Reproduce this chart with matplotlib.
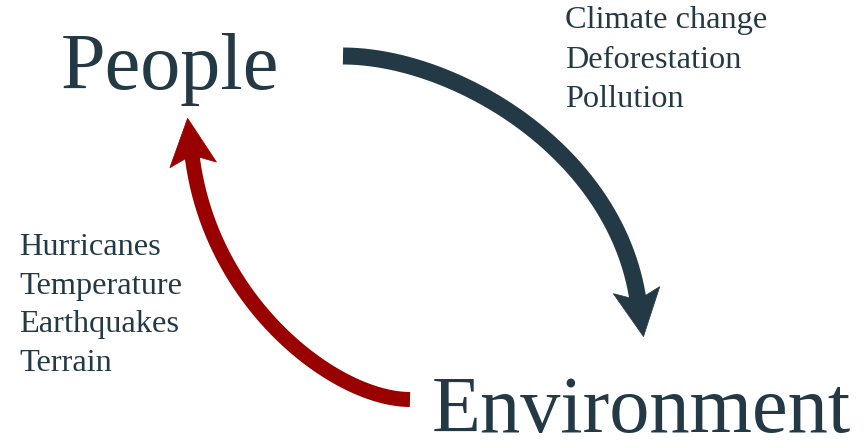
import numpy as np
import matplotlib
matplotlib.use("Agg")
import matplotlib.pyplot as plt
from matplotlib.patches import Polygon

W, H, DPI = 866, 440, 100
DARK = "#233a46"
RED = "#990000"
SERIF = ["Liberation Serif", "DejaVu Serif"]

# content
nodes = ["People", "Environment"]
human_impacts = ["Climate change", "Deforestation", "Pollution"]
natural_impacts = ["Hurricanes", "Temperature", "Earthquakes", "Terrain"]

fig = plt.figure(figsize=(W / DPI, H / DPI), dpi=DPI)
ax = fig.add_axes([0, 0, 1, 1])
ax.set_xlim(0, W)
ax.set_ylim(H, 0)
ax.axis("off")


def curved_arrow(ctrl, color, width_px, head_len=47, head_w=47, notch=10):
    P = [np.asarray(p, dtype=float) for p in ctrl]
    t = np.linspace(0, 1, 300)[:, None]
    pts = ((1 - t) ** 3 * P[0] + 3 * (1 - t) ** 2 * t * P[1]
           + 3 * (1 - t) * t ** 2 * P[2] + t ** 3 * P[3])
    ax.plot(pts[:, 0], pts[:, 1], color=color, lw=width_px * 72 / DPI,
            solid_capstyle="butt", solid_joinstyle="round")
    d = P[3] - P[2]
    d = d / np.hypot(*d)
    n = np.array([-d[1], d[0]])
    back = P[3] - d * notch
    tip = P[3] + d * (head_len - notch)
    head = [tip, back + n * head_w / 2, P[3], back - n * head_w / 2]
    ax.add_patch(Polygon(head, closed=True, facecolor=color, edgecolor=color,
                         lw=0.5))


# People -> Environment (dark)
curved_arrow([(343, 56), (453, 56), (615.5, 150), (638, 300)], DARK, 17)
# Environment -> People (red)
curved_arrow([(410, 399.5), (336, 399.5), (209.8, 303.7), (192, 155)], RED, 15)

ax.text(61, 89, nodes[0], fontsize=57.8, family=SERIF, color=DARK,
        ha="left", va="baseline")
ax.text(432, 432, nodes[1], fontsize=57.8, family=SERIF, color=DARK,
        ha="left", va="baseline")

for i, s in enumerate(human_impacts):
    ax.text(565, 28 + i * 39.5, s, fontsize=23.3, family=SERIF, color=DARK,
            ha="left", va="baseline")
for i, s in enumerate(natural_impacts):
    ax.text(19, 255 + i * 38.7, s, fontsize=23.3, family=SERIF, color=DARK,
            ha="left", va="baseline")

fig.savefig("out.png", dpi=DPI, facecolor="white")
